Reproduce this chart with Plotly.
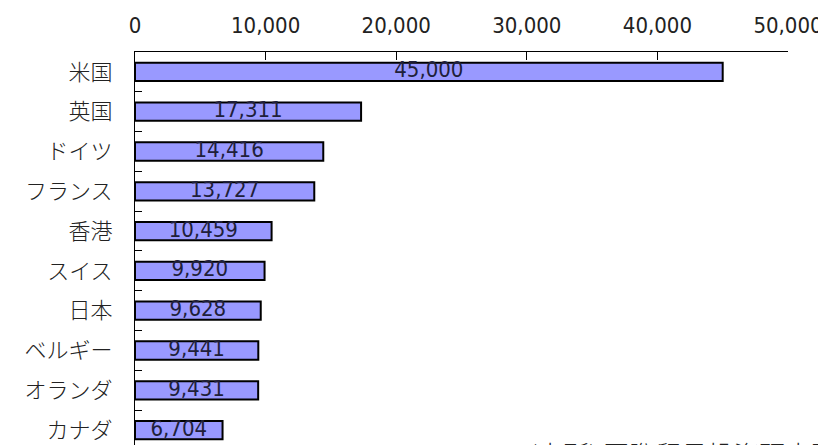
import plotly.graph_objects as go

countries = ["米国", "英国", "ドイツ", "フランス", "香港", "スイス", "日本", "ベルギー", "オランダ", "カナダ"]
values = [45000, 17311, 14416, 13727, 10459, 9920, 9628, 9441, 9431, 6704]
x_ticks = [0, 10000, 20000, 30000, 40000, 50000]
x_tick_labels = ["0", "10,000", "20,000", "30,000", "40,000", "50,000"]
source_note = "(出所) 国際貿易投資研究所「世界主要国の直接投資統計集」"

cjk_font = "Noto Sans CJK JP, DejaVu Sans, sans-serif"
num_font = "DejaVu Sans Condensed, DejaVu Sans, sans-serif"

# page body has an 8px default margin; the figure is sized to fill the rest
OFF = 8
W, H = 826 - OFF, 445 - OFF
L, R, T, B = 135 - OFF, 38, 52 - OFF, 0
PW, PH = W - L - R, H - T - B

fig = go.Figure()
fig.add_trace(go.Bar(
    x=values, y=countries, orientation="h",
    width=0.46,
    marker=dict(color="#9999FF", line=dict(color="#000000", width=2)),
    textposition="none", hoverinfo="skip",
))
fig.add_trace(go.Scatter(
    x=[v / 2 for v in values], y=countries, mode="text",
    text=[f"{v:,}" for v in values],
    textposition="middle center",
    textfont=dict(family=num_font, size=22, color="#20203a", weight=300),
    hoverinfo="skip",
))

fig.update_layout(
    width=W, height=H,
    margin=dict(l=L, r=R, t=T, b=B, autoexpand=False),
    paper_bgcolor="white", plot_bgcolor="white",
    showlegend=False,
    font=dict(family=cjk_font, color="#222222"),
    annotations=[dict(
        text=source_note,
        x=(527 - OFF - L) / PW, y=(H - (433 - OFF)) / PH,
        xref="paper", yref="paper", showarrow=False,
        xanchor="left", yanchor="top",
        font=dict(family=cjk_font, size=26, color="#222222", weight=300),
    )],
)

fig.update_xaxes(
    side="top", range=[0, 50000], tickvals=x_ticks, ticktext=x_tick_labels,
    automargin=False,
    showgrid=False, zeroline=False, showline=True, linecolor="#000000", linewidth=1,
    ticks="inside", ticklen=8, tickcolor="#000000",
    tickfont=dict(family=num_font, size=22, color="#222222", weight=300),
    ticklabelstandoff=9,
)
fig.update_yaxes(
    categoryorder="array", categoryarray=countries,
    range=[9.375, -0.5], automargin=False,
    showgrid=False, zeroline=False, showline=True, linecolor="#000000", linewidth=1,
    ticks="inside", ticklen=7, tickcolor="#000000", tickson="boundaries",
    tickfont=dict(family=cjk_font, size=22, color="#222222", weight=300),
    ticklabelstandoff=17,
)

fig.write_html("out.html")
